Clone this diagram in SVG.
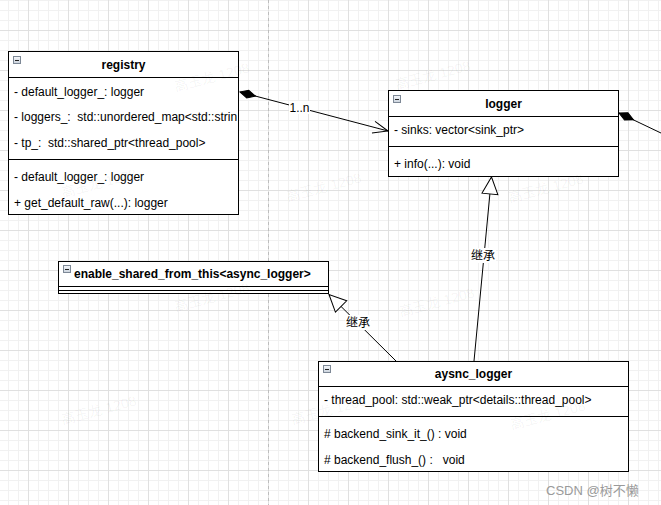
<svg xmlns="http://www.w3.org/2000/svg" width="661" height="505" viewBox="0 0 661 505">
<defs>
<style>
text{font-family:"Liberation Sans",Arial,"Noto Sans CJK SC",sans-serif;font-size:12px;fill:#000}
.t{font-weight:bold;text-anchor:middle}
.tl{font-weight:bold}
.box{fill:#fff;stroke:#000;stroke-width:1}
.sep{stroke:#000;stroke-width:1}
.ic{fill:url(#icg);stroke:#7d8896;stroke-width:1}
.icm{stroke:#222;stroke-width:1}
.edge{fill:none;stroke:#000;stroke-width:1}
.lbl{text-anchor:middle}
.lblbg{fill:#fff}
.wm{font-size:14px;fill:#000;fill-opacity:0.05;text-anchor:middle}
</style>
<linearGradient id="icg" x1="0" y1="0" x2="0" y2="1"><stop offset="0" stop-color="#f6f8fb"/><stop offset="1" stop-color="#c9d1db"/></linearGradient>
<pattern id="grid" patternUnits="userSpaceOnUse" x="28" y="30" width="40" height="40">
<path d="M10.5 0V40M20.5 0V40M30.5 0V40M0 10.5H40M0 20.5H40M0 30.5H40" stroke="#f1f1f1" stroke-width="1"/>
<path d="M0.5 0V40M0 0.5H40" stroke="#e0e0e0" stroke-width="1"/>
</pattern>
<marker id="diamond" markerUnits="userSpaceOnUse" markerWidth="20" markerHeight="12" refX="0" refY="5" orient="auto" overflow="visible">
<path d="M0 5L8 1L16 5L8 9Z" fill="#000" stroke="#000" stroke-width="1"/>
</marker>
<marker id="open" markerUnits="userSpaceOnUse" markerWidth="20" markerHeight="16" refX="16" refY="8" orient="auto" overflow="visible">
<path d="M1 2L16 8L1 14" fill="none" stroke="#000" stroke-width="1"/>
</marker>
<marker id="tri" markerUnits="userSpaceOnUse" markerWidth="22" markerHeight="20" refX="18" refY="9" orient="auto" overflow="visible">
<path d="M1 1L18 9L1 17Z" fill="#fff" stroke="#000" stroke-width="1"/>
</marker>
<clipPath id="regclip"><rect x="9" y="52" width="228" height="162"/></clipPath>
</defs>
<rect x="0" y="0" width="661" height="505" fill="#fff"/>
<rect x="0" y="0" width="661" height="505" fill="url(#grid)"/>
<path d="M268.5 0V505" stroke="#bdbdbd" stroke-width="1" stroke-dasharray="3 3"/>

<g id="connectors">
<path class="edge" d="M240 92L388 131" marker-start="url(#diamond)" marker-end="url(#open)"/>
<rect class="lblbg" x="289" y="101" width="21" height="13"/>
<text class="lbl" x="299.5" y="112">1..n</text>
<path class="edge" d="M619 113L705 154" marker-start="url(#diamond)"/>
<path class="edge" d="M474 361L491.5 177" marker-end="url(#tri)"/>
<rect class="lblbg" x="470" y="248" width="26" height="15"/>
<text class="lbl" x="483" y="260">继承</text>
<path class="edge" d="M396 361L329 294.5" marker-end="url(#tri)"/>
<rect class="lblbg" x="345" y="315" width="26" height="15"/>
<text class="lbl" x="358" y="327">继承</text>
</g>

<g id="registry">
<rect class="box" x="8.5" y="51.5" width="230" height="163"/>
<path class="sep" d="M8.5 77.5H238.5M8.5 159.5H238.5"/>
<rect class="ic" x="13.5" y="56.5" width="7" height="7"/>
<path class="icm" d="M15 60.5H19"/>
<text class="t" x="123.5" y="69">registry</text>
<g clip-path="url(#regclip)">
<text x="14" y="95.5">- default_logger_: logger</text>
<text x="14" y="121" xml:space="preserve">- loggers_:  std::unordered_map&lt;std::string, logger&gt;</text>
<text x="14" y="147" xml:space="preserve">- tp_:  std::shared_ptr&lt;thread_pool&gt;</text>
<text x="14" y="181">- default_logger_: logger</text>
<text x="14" y="207">+ get_default_raw(...): logger</text>
</g>
</g>

<g id="logger">
<rect class="box" x="388.5" y="90.5" width="230" height="86"/>
<path class="sep" d="M388.5 116.5H618.5M388.5 146.5H618.5"/>
<rect class="ic" x="393.5" y="95.5" width="7" height="7"/>
<path class="icm" d="M395 99.5H399"/>
<text class="t" x="503.5" y="108">logger</text>
<text x="394" y="134">- sinks: vector&lt;sink_ptr&gt;</text>
<text x="394" y="168">+ info(...): void</text>
</g>

<g id="enable_shared_from_this">
<rect class="box" x="58.5" y="261.5" width="270" height="32"/>
<path class="sep" d="M58.5 286.5H328.5M58.5 290.5H328.5"/>
<rect class="ic" x="63.5" y="265.5" width="7" height="7"/>
<path class="icm" d="M65 269.5H69"/>
<text class="tl" x="74" y="278">enable_shared_from_this&lt;async_logger&gt;</text>
</g>

<g id="aysnc_logger">
<rect class="box" x="318.5" y="361.5" width="310" height="110"/>
<path class="sep" d="M318.5 386.5H628.5M318.5 416.5H628.5"/>
<rect class="ic" x="323.5" y="365.5" width="7" height="7"/>
<path class="icm" d="M325 369.5H329"/>
<text class="t" x="473.5" y="378">aysnc_logger</text>
<text x="324" y="404">- thread_pool: std::weak_ptr&lt;details::thread_pool&gt;</text>
<text x="324" y="437.5"># backend_sink_it_() : void</text>
<text x="324" y="464" xml:space="preserve"># backend_flush_() :   void</text>
</g>

<g id="watermarks">
<text class="wm" transform="translate(213 82) rotate(-15)">高玉龙 1208</text>
<text class="wm" transform="translate(434 80) rotate(-15)">高玉龙 1208</text>
<text class="wm" transform="translate(100 188) rotate(-15)">高玉龙 1208</text>
<text class="wm" transform="translate(325 192) rotate(-15)">高玉龙 1208</text>
<text class="wm" transform="translate(547 193) rotate(-15)">高玉龙 1208</text>
<text class="wm" transform="translate(213 302) rotate(-15)">高玉龙 1208</text>
<text class="wm" transform="translate(438 307) rotate(-15)">高玉龙 1208</text>
<text class="wm" transform="translate(100 415) rotate(-15)">高玉龙 1208</text>
<text class="wm" transform="translate(330 415) rotate(-15)">高玉龙 1208</text>
<text class="wm" transform="translate(549 420) rotate(-15)">高玉龙 1208</text>
</g>
<text x="546" y="495" style="font-size:13px;fill:#9a9a9a">CSDN @树不懒</text>
</svg>
